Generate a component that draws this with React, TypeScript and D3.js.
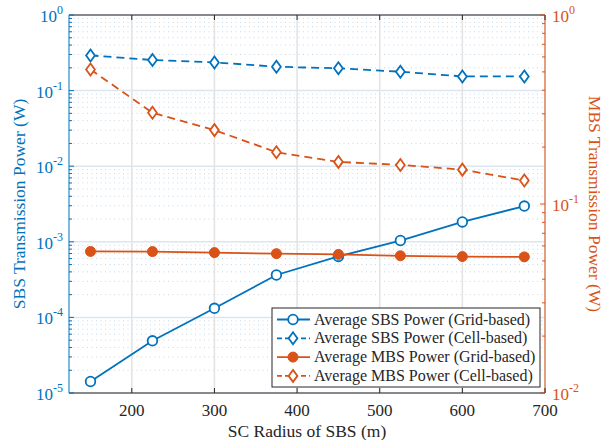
import React from "react";
import * as d3 from "d3";

const radius = [150, 225, 300, 375, 450, 525, 600, 675];
const sbsGrid = [1.42e-5, 4.9e-5, 1.32e-4, 3.64e-4, 6.4e-4, 1.04e-3, 1.83e-3, 2.97e-3];
const sbsCell = [0.292, 0.254, 0.236, 0.207, 0.197, 0.178, 0.154, 0.154];
const mbsGrid = [0.0561, 0.056, 0.0553, 0.0546, 0.0541, 0.0532, 0.0527, 0.0525];
const mbsCell = [0.515, 0.304, 0.246, 0.188, 0.167, 0.161, 0.152, 0.133];
const xTicks = [200, 300, 400, 500, 600, 700];
const leftExp = [0, -1, -2, -3, -4, -5];
const rightExp = [0, -1, -2];
const legendLabels = [
  "Average SBS Power (Grid-based)",
  "Average SBS Power (Cell-based)",
  "Average MBS Power (Grid-based)",
  "Average MBS Power (Cell-based)",
];

const BLUE = "#0072BD";
const ORANGE = "#D95319";
const FONT = "Liberation Serif, DejaVu Serif, serif";

const W = 604, H = 440;
const L = 69, R = 545, T = 15, B = 393;

const x = d3.scaleLinear().domain([124, 700]).range([L, R]);
const yL = d3.scaleLog().domain([1e-5, 1]).range([B, T]);
const yR = d3.scaleLog().domain([1e-2, 1]).range([B, T]);

const minors = (lo: number, hi: number) => {
  const out: number[] = [];
  for (let e = lo; e < hi; e++) for (let k = 2; k <= 9; k++) out.push(k * Math.pow(10, e));
  return out;
};

const diamond = (cx: number, cy: number, w = 4.4, h = 6) =>
  `M${cx},${cy - h}L${cx + w},${cy}L${cx},${cy + h}L${cx - w},${cy}Z`;

type Series = { vals: number[]; y: any; color: string; dash?: string; marker: "o" | "d" | "f" };
const series: Series[] = [
  { vals: sbsGrid, y: yL, color: BLUE, marker: "o" },
  { vals: sbsCell, y: yL, color: BLUE, dash: "8,5", marker: "d" },
  { vals: mbsGrid, y: yR, color: ORANGE, marker: "f" },
  { vals: mbsCell, y: yR, color: ORANGE, dash: "8,5", marker: "d" },
];

const Marker = ({ kind, cx, cy, color }: { kind: string; cx: number; cy: number; color: string }) => {
  if (kind === "o") return <circle cx={cx} cy={cy} r={4.8} fill="#fff" stroke={color} strokeWidth={1.8} />;
  if (kind === "f") return <circle cx={cx} cy={cy} r={5} fill={color} stroke={color} strokeWidth={1} />;
  return <path d={diamond(cx, cy)} fill="#fff" stroke={color} strokeWidth={1.8} />;
};

const Pow = ({ e, px, py, anchor, color }: { e: number; px: number; py: number; anchor: string; color: string }) => (
  <text x={px} y={py} textAnchor={anchor as any} fill={color} fontSize={17}>
    10<tspan fontSize={12} dy={-8}>{e}</tspan>
  </text>
);

export default function App() {
  const line = (s: Series) =>
    d3.line<number>().x((_, i) => x(radius[i])).y((v) => s.y(v))(s.vals) as string;
  const legX = 272, legY = 308, legW = 268, legH = 79;
  return (
    <svg width={W} height={H} style={{ position: "absolute", left: 0, top: 0, background: "#fff", fontFamily: FONT }}>
      {/* minor grid */}
      {minors(-5, 0).map((v, i) => (
        <line key={"mg" + i} x1={L} x2={R} y1={yL(v)} y2={yL(v)} stroke="#c3d8ea" strokeWidth={1} strokeDasharray="1,3.5" />
      ))}
      {/* major grid */}
      {leftExp.map((e) => (
        <line key={"gy" + e} x1={L} x2={R} y1={yL(Math.pow(10, e))} y2={yL(Math.pow(10, e))} stroke="#dbe6f0" strokeWidth={1.5} />
      ))}
      {xTicks.map((t) => (
        <line key={"gx" + t} x1={x(t)} x2={x(t)} y1={T} y2={B} stroke="#e3e3e3" strokeWidth={1.5} />
      ))}

      {/* series */}
      {series.map((s, si) => (
        <g key={"s" + si}>
          <path d={line(s)} fill="none" stroke={s.color} strokeWidth={1.8} strokeDasharray={s.dash} />
          {s.vals.map((v, i) => (
            <Marker key={i} kind={s.marker} cx={x(radius[i])} cy={s.y(v)} color={s.color} />
          ))}
        </g>
      ))}

      {/* box */}
      <line x1={L} x2={R} y1={T} y2={T} stroke="#262626" strokeWidth={1} />
      <line x1={L} x2={R} y1={B} y2={B} stroke="#262626" strokeWidth={1} />
      <line x1={L} x2={L} y1={T} y2={B} stroke={BLUE} strokeWidth={1} />
      <line x1={R} x2={R} y1={T} y2={B} stroke={ORANGE} strokeWidth={1} />

      {/* x ticks */}
      {xTicks.map((t) => (
        <g key={"xt" + t}>
          <line x1={x(t)} x2={x(t)} y1={B} y2={B - 5} stroke="#262626" />
          <line x1={x(t)} x2={x(t)} y1={T} y2={T + 5} stroke="#262626" />
          <text x={x(t)} y={416} textAnchor="middle" fill="#262626" fontSize={17}>{t}</text>
        </g>
      ))}

      {/* left ticks */}
      {leftExp.map((e) => (
        <g key={"lt" + e}>
          <line x1={L} x2={L + 5} y1={yL(Math.pow(10, e))} y2={yL(Math.pow(10, e))} stroke={BLUE} />
          <Pow e={e} px={63} py={yL(Math.pow(10, e)) + 7} anchor="end" color={BLUE} />
        </g>
      ))}
      {minors(-5, 0).map((v, i) => (
        <line key={"lm" + i} x1={L} x2={L + 3} y1={yL(v)} y2={yL(v)} stroke={BLUE} />
      ))}

      {/* right ticks */}
      {rightExp.map((e) => (
        <g key={"rt" + e}>
          <line x1={R} x2={R - 5} y1={yR(Math.pow(10, e))} y2={yR(Math.pow(10, e))} stroke={ORANGE} />
          <Pow e={e} px={552} py={yR(Math.pow(10, e)) + 7} anchor="start" color={ORANGE} />
        </g>
      ))}
      {minors(-2, 0).map((v, i) => (
        <line key={"rm" + i} x1={R} x2={R - 3} y1={yR(v)} y2={yR(v)} stroke={ORANGE} />
      ))}

      {/* axis labels */}
      <text x={(L + R) / 2} y={437} textAnchor="middle" fill="#262626" fontSize={17.5}>SC Radius of SBS (m)</text>
      <text transform={`translate(25,${(T + B) / 2}) rotate(-90)`} textAnchor="middle" fill={BLUE} fontSize={17.5}>SBS Transmission Power (W)</text>
      <text transform={`translate(589,${(T + B) / 2}) rotate(90)`} textAnchor="middle" fill={ORANGE} fontSize={17.5}>MBS Transmission Power (W)</text>

      {/* legend */}
      <rect x={legX} y={legY} width={legW} height={legH} fill="#fff" stroke="#262626" strokeWidth={1} />
      {series.map((s, i) => {
        const cy = legY + 11.5 + i * 18.8;
        return (
          <g key={"lg" + i}>
            <line x1={legX + 5} x2={legX + 38} y1={cy} y2={cy} stroke={s.color} strokeWidth={1.8} strokeDasharray={s.dash ? "5,3" : undefined} />
            <Marker kind={s.marker} cx={legX + 21} cy={cy} color={s.color} />
            <text x={legX + 42} y={cy + 5} fill="#262626" fontSize={16}>{legendLabels[i]}</text>
          </g>
        );
      })}
    </svg>
  );
}
